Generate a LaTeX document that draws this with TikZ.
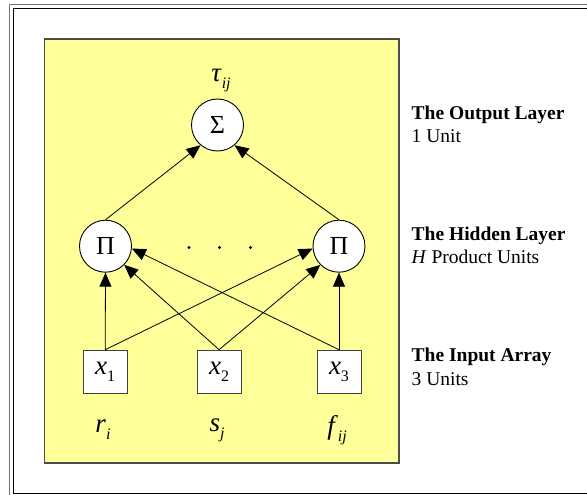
\documentclass[tikz,border=0pt]{standalone}
\usepackage{fontspec}
\setmainfont{Liberation Serif}
\usetikzlibrary{arrows.meta}
\newcommand{\lsub}[1]{\raisebox{-7pt}{\fontsize{16}{16}\selectfont #1}}
\definecolor{paleyellow}{RGB}{255,255,153}
\begin{document}
\begin{tikzpicture}[x=1pt,y=-1pt,
 unit/.style={circle,draw=black,fill=white,line width=0.9pt,minimum size=52pt,inner sep=0pt,font=\fontsize{26}{26}\selectfont},
 inbox/.style={rectangle,draw=black!75,fill=white,line width=1pt,minimum width=44pt,minimum height=43pt,inner sep=0pt,font=\fontsize{27}{27}\selectfont},
 conn/.style={line width=0.8pt,-{Triangle[length=14pt,width=12pt]}},
 varlabel/.style={inner sep=0pt,font=\fontsize{27}{27}\selectfont},
 head/.style={anchor=base west,inner sep=0pt,font=\fontsize{19.5}{19.5}\selectfont\bfseries},
 subhead/.style={anchor=base west,inner sep=0pt,font=\fontsize{19.5}{19.5}\selectfont},
 dotmark/.style={circle,fill=black,inner sep=0pt,minimum size=3.4pt}]
\useasboundingbox (0,0) rectangle (587,495);
\fill[white] (0,0) rectangle (587,495);
% outer frame
\draw[black!55,line width=1.3pt] (600,4.5) -- (9.8,4.5) -- (9.8,500);
\draw[black,line width=1pt] (600,8.2) -- (13.6,8.2) -- (13.6,493.8) -- (600,493.8);
% yellow panel
\draw[draw=black!70,fill=paleyellow,line width=1.2pt] (44.5,39) rectangle (399,463);
% nodes
\node[unit] (s) at (217.5,125) {Σ};
\node[unit] (h1) at (105.5,246.2) {Π};
\node[unit] (h2) at (339,246.2) {Π};
\node[inbox] (x1) at (105.2,371.7) {\textit{x}\lsub{1}};
\node[inbox] (x2) at (219.1,371.7) {\textit{x}\lsub{2}};
\node[inbox] (x3) at (339,371.7) {\textit{x}\lsub{3}};
\node[dotmark] (d1) at (189,247.5) {};
\node[dotmark] (d2) at (219.5,247.5) {};
\node[dotmark] (d3) at (250.5,247.5) {};
\node[varlabel] (tau) at (221,81) {\textit{τ}\lsub{\textit{ij}}};
\node[varlabel] (ri) at (103,430) {\textit{r}\lsub{\textit{i}}};
\node[varlabel] (sj) at (217,430) {\textit{s}\lsub{\textit{j}}};
\node[varlabel] (fij) at (337,430) {\textit{f}\lsub{\textit{ij}}};
% connectors
\draw[conn] (h1.north) -- (s.230);
\draw[conn] (h2.north) -- (s.310);
\draw[conn] (x1.north) -- (h1.south);
\draw[conn] (x1.north) -- (h2.185);
\draw[conn] (x2.north) -- (h1.-45);
\draw[conn] (x2.north) -- (h2.225);
\draw[conn] (x3.north) -- (h1.-5);
\draw[conn] (x3.north) -- (h2.south);
% layer descriptions
\node[head] (t1) at (411.5,119.3) {The Output Layer};
\node[subhead] (u1) at (411.5,142.7) {1 Unit};
\node[head] (t2) at (411.5,240) {The Hidden Layer};
\node[subhead] (u2) at (411.5,263.5) {\textit{H} Product Units};
\node[head] (t3) at (411.5,361) {The Input Array};
\node[subhead] (u3) at (411.5,385) {3 Units};
\end{tikzpicture}
\end{document}
